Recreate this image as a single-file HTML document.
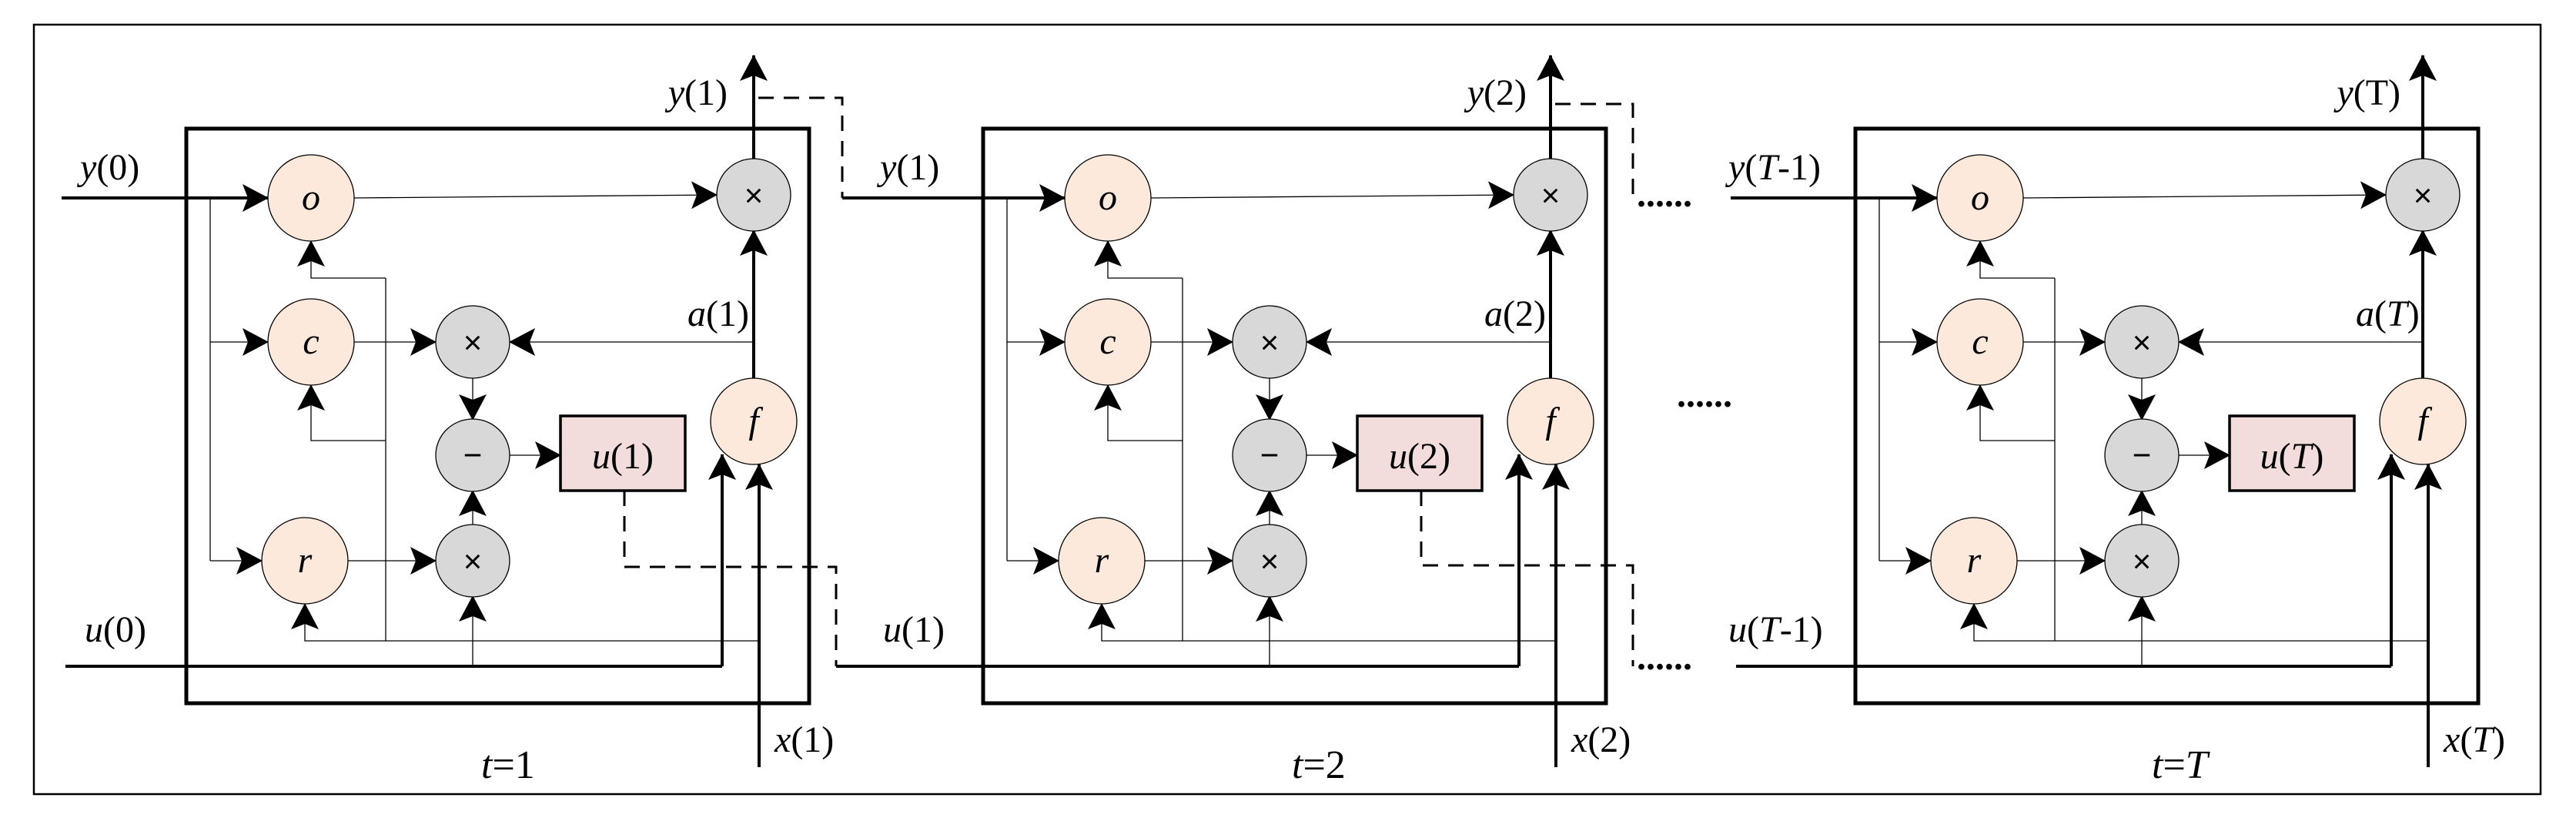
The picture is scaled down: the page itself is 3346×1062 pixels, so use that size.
<!DOCTYPE html>
<html><head><meta charset="utf-8"><style>
html,body{margin:0;padding:0;background:#fff;}
svg{display:block;}
text{font-family:"Liberation Serif",serif;font-size:48px;fill:#000;}
.i{font-style:italic;}
.s{font-family:"Liberation Sans",sans-serif;font-size:42px;}
.n{font-size:48px;}
</style></head><body>
<svg width="3346" height="1062" viewBox="0 0 3346 1062" xmlns="http://www.w3.org/2000/svg">
<defs>
<marker id="a" markerUnits="userSpaceOnUse" markerWidth="34" markerHeight="36" refX="33" refY="18" orient="auto" viewBox="0 0 34 36">
<path d="M0,0 L34,18 L0,36 L7,18 z" fill="#000"/></marker>
<g id="blk" fill="none" stroke="#000">
<rect x="242" y="167" width="809" height="746" stroke-width="5"/>
<g stroke-width="1.3">
<path d="M273,257 V728"/>
<path d="M273,444 H348" marker-end="url(#a)"/>
<path d="M273,728 H340" marker-end="url(#a)"/>
<path d="M460,257 L931,253" marker-end="url(#a)"/>
<path d="M460,444 H566" marker-end="url(#a)"/>
<path d="M452,728 H566" marker-end="url(#a)"/>
<path d="M979,444 H662" marker-end="url(#a)"/>
<path d="M614,490 V545" marker-end="url(#a)"/>
<path d="M614,682 V637" marker-end="url(#a)"/>
<path d="M662,591 H728" marker-end="url(#a)"/>
<path d="M501,361 V832"/>
<path d="M501,361 H404 V313" marker-end="url(#a)"/>
<path d="M501,572 H404 V500" marker-end="url(#a)"/>
<path d="M985,832 H396 V784" marker-end="url(#a)"/>
<path d="M614,865 V774" marker-end="url(#a)"/>
</g>
<g stroke-width="4">
<path d="M938,865 V590" marker-end="url(#a)"/>
<path d="M986,996 V603" marker-end="url(#a)"/>
<path d="M979,491 V299" marker-end="url(#a)"/>
<path d="M979,207 V72" marker-end="url(#a)"/>
</g>
<g stroke-width="1.3">
<ellipse cx="404" cy="257" rx="56" ry="56" fill="#fce9dc"/>
<ellipse cx="404" cy="444" rx="56" ry="56" fill="#fce9dc"/>
<ellipse cx="396" cy="728" rx="56" ry="56" fill="#fce9dc"/>
<ellipse cx="979" cy="547" rx="56" ry="56" fill="#fce9dc"/>
<ellipse cx="979" cy="253" rx="48" ry="47" fill="#d8d8d8"/>
<ellipse cx="614" cy="444" rx="48" ry="47" fill="#d8d8d8"/>
<ellipse cx="614" cy="591" rx="48" ry="47" fill="#d8d8d8"/>
<ellipse cx="614" cy="728" rx="48" ry="47" fill="#d8d8d8"/>
</g>
<rect x="728" y="540" width="162" height="97" fill="#f2dcdc" stroke-width="3.5"/>
</g>
<g id="lbl">
<text x="404" y="272" text-anchor="middle" class="i n">o</text>
<text x="404" y="459" text-anchor="middle" class="i n">c</text>
<text x="396" y="743" text-anchor="middle" class="i n">r</text>
<text x="979" y="562" text-anchor="middle" class="i n">f</text>
<text x="979" y="268" text-anchor="middle" class="s">×</text>
<text x="614" y="459" text-anchor="middle" class="s">×</text>
<text x="614" y="605" text-anchor="middle" class="s">−</text>
<text x="614" y="743" text-anchor="middle" class="s">×</text>
</g>
</defs>

<rect x="44" y="32" width="3256" height="999" fill="none" stroke="#000" stroke-width="2.5"/>

<use href="#blk"/><use href="#lbl"/>
<use href="#blk" transform="translate(1035,0)"/><use href="#lbl" transform="translate(1035,0)"/>
<use href="#blk" transform="translate(2168,0)"/><use href="#lbl" transform="translate(2168,0)"/>

<g fill="none" stroke="#000" stroke-width="4">
<path d="M80,257 H348" marker-end="url(#a)"/>
<path d="M85,865 H938"/>
<path d="M1094,257 H1383" marker-end="url(#a)"/>
<path d="M1086,865 H1973"/>
<path d="M2248,257 H2516" marker-end="url(#a)"/>
<path d="M2255,865 H3106"/>
</g>
<g fill="none" stroke="#000" stroke-width="3" stroke-dasharray="20,13">
<path d="M985,127 H1094 V257"/>
<path d="M811,637 V736 H1086 V865"/>
<path d="M2020,135 H2121 V264"/>
<path d="M1846,637 V734 H2121 V865"/>
</g>
<text x="2126" y="268" style="font-weight:bold">......</text>
<text x="2126" y="869" style="font-weight:bold">......</text>
<text x="2178" y="528" style="font-weight:bold">......</text>

<text x="104" y="233"><tspan class="i">y</tspan>(0)</text>
<text x="110" y="833"><tspan class="i">u</tspan>(0)</text>
<text x="945" y="136" text-anchor="end"><tspan class="i">y</tspan>(1)</text>
<text x="893" y="423"><tspan class="i">a</tspan>(1)</text>
<text x="809" y="608" text-anchor="middle"><tspan class="i">u</tspan>(1)</text>
<text x="1006" y="976"><tspan class="i">x</tspan>(1)</text>
<text x="625" y="1010" style="font-size:52px"><tspan class="i">t</tspan>=1</text>
<text x="1143" y="233"><tspan class="i">y</tspan>(1)</text>
<text x="1147" y="833"><tspan class="i">u</tspan>(1)</text>
<text x="1983" y="136" text-anchor="end"><tspan class="i">y</tspan>(2)</text>
<text x="1928" y="423"><tspan class="i">a</tspan>(2)</text>
<text x="1844" y="608" text-anchor="middle"><tspan class="i">u</tspan>(2)</text>
<text x="2041" y="976"><tspan class="i">x</tspan>(2)</text>
<text x="1678" y="1010" style="font-size:52px"><tspan class="i">t</tspan>=2</text>
<text x="2245" y="233"><tspan class="i">y</tspan>(<tspan class="i">T</tspan>-1)</text>
<text x="2245" y="833"><tspan class="i">u</tspan>(<tspan class="i">T</tspan>-1)</text>
<text x="3118" y="136" text-anchor="end"><tspan class="i">y</tspan>(T)</text>
<text x="3060" y="423"><tspan class="i">a</tspan>(<tspan class="i">T</tspan>)</text>
<text x="2977" y="608" text-anchor="middle"><tspan class="i">u</tspan>(<tspan class="i">T</tspan>)</text>
<text x="3174" y="976"><tspan class="i">x</tspan>(<tspan class="i">T</tspan>)</text>
<text x="2795" y="1010" style="font-size:52px"><tspan class="i">t</tspan>=<tspan class="i">T</tspan></text>
</svg>
</body></html>
